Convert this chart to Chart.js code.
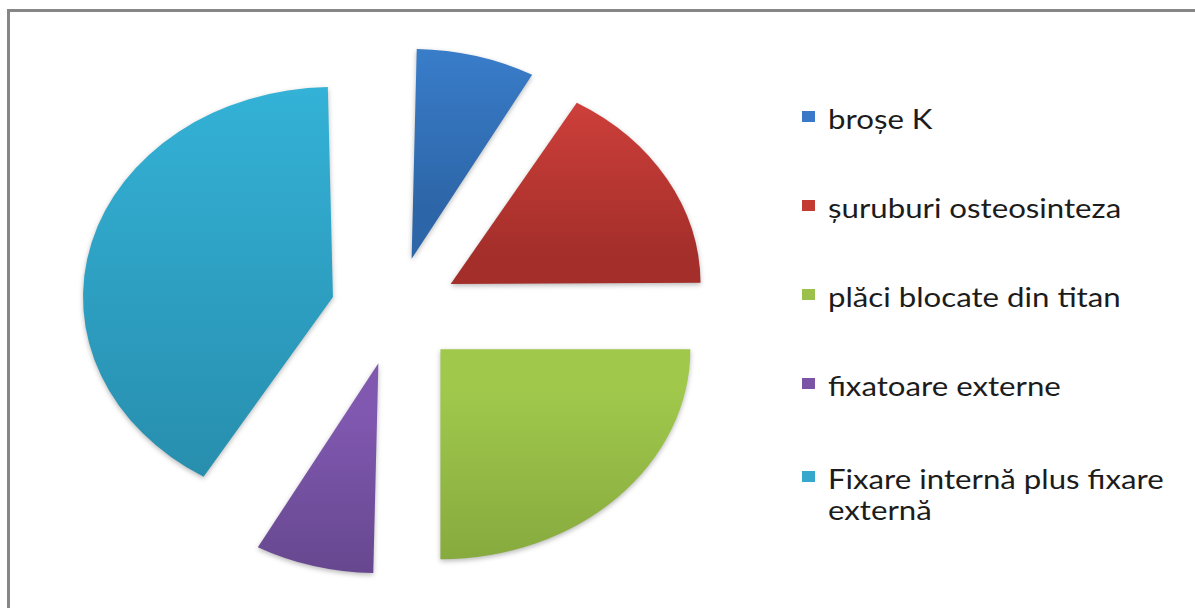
<!DOCTYPE html>
<html>
<head>
<meta charset="utf-8">
<script src="https://cdn.jsdelivr.net/npm/chart.js@4.4.0/dist/chart.umd.min.js"></script>
<style>
    html, body { margin: 0; padding: 0; background: #fff; overflow: hidden; }
    body { width: 1195px; height: 608px; position: relative; }
    .frame {
        position: absolute; left: 7px; top: 9px; right: -10px; bottom: -10px;
        border-left: 3px solid #868686; border-top: 3px solid #868686;
    }
    .pie { position: absolute; left: 0; top: 0; width: 790px; height: 622px; }
    #legend {
        position: absolute; left: 802px; top: 104px; margin: 0; padding: 0; list-style: none;
        font-family: Lato, "Open Sans", sans-serif; font-size: 26px; line-height: 31px; color: #1c1c1c;
    }
    #legend li { position: relative; padding-left: 26px; height: 31px; margin-bottom: 58px; }
    #legend li.two { height: 62px; top: 4px; }
    #legend .box { position: absolute; left: 0; top: 7px; width: 13px; height: 11px; }
    #legend .txt { display: block; width: 298px; transform: scaleX(1.2); transform-origin: 0 0; }
</style>
</head>
<body>
<div class="frame"></div>
<div class="pie"><canvas id="myChart"></canvas></div>
<ul id="legend"></ul>

<script>
const labels = ["broșe K", "șuruburi osteosinteza", "plăci blocate din titan", "fixatoare externe", "Fixare internă plus fixare externă"];
const values = [1, 2, 3, 1, 5];

const topColors = ["#3d84d4", "#d5423d", "#a0c94c", "#8058b0", "#34b3d8"];
const bottomColors = ["#2d66a8", "#a32e2a", "#82a33b", "#5e4284", "#288faf"];
const legendColors = ["#3a78c8", "#c23a31", "#9bc04c", "#7a55a5", "#35a8cc"];

const PIE_RADIUS = 210;
const SLICE_OFFSET = 54;   // pixels each slice is pulled out
const X_STRETCH = 1.19;

// vertical gradient spanning each slice from its top to its bottom
const sliceFill = (c) => {
    const i = c.dataIndex;
    const area = c.chart.chartArea;
    if (!area) return topColors[i];
    const total = values.reduce((a, b) => a + b, 0);
    let before = 0;
    for (let k = 0; k < i; k++) before += values[k];
    const a0 = -Math.PI / 2 + before / total * 2 * Math.PI;
    const a1 = a0 + values[i] / total * 2 * Math.PI;
    const mid = (a0 + a1) / 2;
    const cy = (area.top + area.bottom) / 2 + SLICE_OFFSET * Math.sin(mid);
    let yMin = cy, yMax = cy;
    for (let t = 0; t <= 24; t++) {
        const y = cy + PIE_RADIUS * Math.sin(a0 + (a1 - a0) * t / 24);
        yMin = Math.min(yMin, y);
        yMax = Math.max(yMax, y);
    }
    const g = c.chart.ctx.createLinearGradient(0, yMin, 0, yMax);
    g.addColorStop(0, topColors[i]);
    g.addColorStop(1, bottomColors[i]);
    return g;
};

// ArcElement grows narrow slices by offset * (1 - sin(circumference)),
// so take that back off to keep every slice at the same radius
const evenRadius = {
    id: "evenRadius",
    afterDatasetsUpdate(chart) {
        chart.getDatasetMeta(0).data.forEach(arc => {
            const fix = 1 - Math.sin(Math.min(Math.PI, arc.circumference));
            arc.outerRadius = PIE_RADIUS - SLICE_OFFSET * fix;
        });
    }
};

// squash the pie into an ellipse and give the slices a soft shadow
const stretchPie = {
    id: "stretchPie",
    beforeDatasetsDraw(chart) {
        const { ctx, chartArea: a } = chart;
        const cx = (a.left + a.right) / 2, cy = (a.top + a.bottom) / 2;
        ctx.save();
        ctx.translate(cx, cy);
        ctx.scale(X_STRETCH, 1);
        ctx.translate(-cx, -cy);
        ctx.shadowColor = "rgba(0,0,0,0.28)";
        ctx.shadowBlur = 5;
        ctx.shadowOffsetY = 2;
    },
    afterDatasetsDraw(chart) {
        chart.ctx.restore();
    }
};

let ctx = document.getElementById("myChart").getContext("2d");
const chart = new Chart(ctx, {
    type: "pie",
    data: {
        labels: labels,
        datasets: [{
            data: values,
            backgroundColor: sliceFill,
            borderWidth: 0,
            offset: SLICE_OFFSET * 4,   // ArcElement moves by offset / 4
            radius: PIE_RADIUS,
            clip: false,
        }]
    },
    options: {
        maintainAspectRatio: false,
        responsive: true,
        animation: false,
        events: [],
        layout: { padding: 0 },
        plugins: {
            legend: { display: false },
            tooltip: { enabled: false },
        },
    },
    plugins: [evenRadius, stretchPie],
});

// legend list built from the chart's own label items
const legendEl = document.getElementById("legend");
chart.options.plugins.legend.labels.generateLabels(chart).forEach((item, i) => {
    const li = document.createElement("li");
    if (i === labels.length - 1) li.className = "two";
    const box = document.createElement("span");
    box.className = "box";
    box.style.background = legendColors[i];
    const txt = document.createElement("span");
    txt.className = "txt";
    txt.textContent = item.text;
    li.appendChild(box);
    li.appendChild(txt);
    legendEl.appendChild(li);
});
</script>
</body>
</html>
